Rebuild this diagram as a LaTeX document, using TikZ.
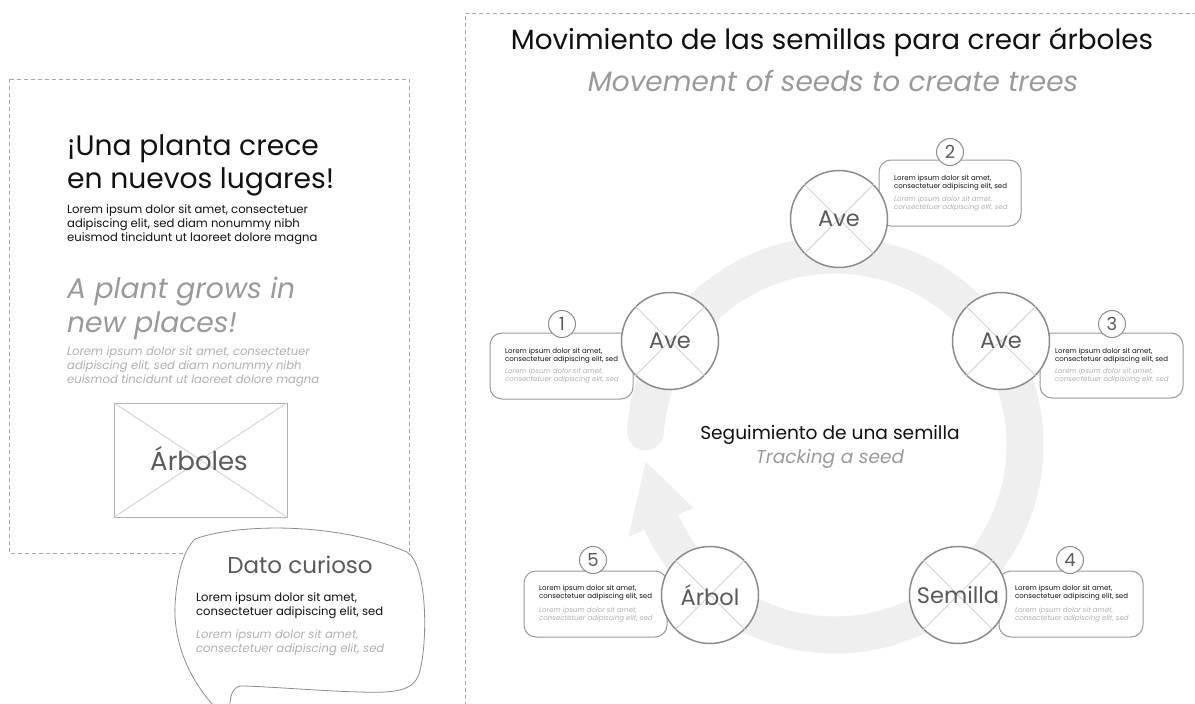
\documentclass[tikz,border=0pt]{standalone}
\usepackage{fontspec}
\setmainfont{Poppins}
\definecolor{dashgray}{HTML}{A8A8A8}
\definecolor{ringgray}{HTML}{EFEFEF}
\definecolor{strokegray}{HTML}{8C8C8C}
\definecolor{cardgray}{HTML}{999999}
\definecolor{crossgray}{HTML}{D2D2D2}
\definecolor{labelgray}{HTML}{5A5A5A}
\definecolor{subgray}{HTML}{9A9A9A}
\definecolor{palegray}{HTML}{B0B0B0}
\definecolor{inkblack}{HTML}{111111}
\newcommand\myfs[2]{\fontsize{#1}{#2}\selectfont}
\tikzset{
  dashbox/.style={draw=dashgray, dash pattern=on 4pt off 3pt, line width=0.8pt},
  birdnode/.style={circle, draw=strokegray, line width=1.5pt, fill=white, minimum size=97pt, inner sep=0pt},
  birdlabel/.style={font=\myfs{22.5}{26}, text=labelgray, inner sep=0pt},
  crossline/.style={draw=crossgray, line width=0.9pt},
  card/.style={draw=cardgray, rounded corners=12pt, line width=1pt, fill=white, inner sep=0pt},
  numnode/.style={circle, draw=strokegray, fill=white, line width=1pt, minimum size=27pt, inner sep=0pt, font=\myfs{18}{18}, text=labelgray},
  cardblack/.style={anchor=west, align=left, inner sep=0pt, font=\myfs{7}{7.8}, text=inkblack},
  cardgrey/.style={anchor=west, align=left, inner sep=0pt, font=\myfs{7}{7.8}\itshape, text=palegray},
  plain/.style={inner sep=0pt, align=left},
}
\begin{document}
\begin{tikzpicture}[x=1pt,y=-1pt]
\useasboundingbox (0,0) rectangle (1195,704);
\clip (0,0) rectangle (1195,704);
\fill[white] (0,0) rectangle (1195,704);

% panels
\draw[dashbox] (9,79) rectangle (409,553);
\draw[dashbox] (465,720) -- (465,13) -- (1200,13);

% ---------------- left panel
\node[plain, anchor=west, font=\myfs{28.2}{33}, text=inkblack] (h1) at (67,165) {¡Una planta crece\\en nuevos lugares!};
\node[plain, anchor=west, font=\myfs{11.6}{14.3}, text=inkblack] (b1txt) at (67,224.5) {Lorem ipsum dolor sit amet, consectetuer\\adipiscing elit, sed diam nonummy nibh\\euismod tincidunt ut laoreet dolore magna};
\node[plain, anchor=west, font=\myfs{28.2}{34}\itshape, text=subgray] (h2) at (67,308) {A plant grows in\\new places!};
\node[plain, anchor=west, font=\myfs{11.6}{14}\itshape, text=palegray] (b2txt) at (67,366.5) {Lorem ipsum dolor sit amet, consectetuer\\adipiscing elit, sed diam nonummy nibh\\euismod tincidunt ut laoreet dolore magna};

\node[draw=palegray, line width=1pt, minimum width=173pt, minimum height=114pt, inner sep=0pt] (img) at (200.5,460) {};
\draw[crossline] (img.north west) -- (img.south east) (img.north east) -- (img.south west);
\node[birdlabel, font=\myfs{26}{30}] (imglab) at (199,459) {Árboles};

% speech bubble
\draw[draw=strokegray, line width=0.8pt, fill=white]
  (222,714) .. controls (196,690) and (173,650) .. (175,605)
  .. controls (177,572) and (184,550) .. (195,539)
  .. controls (235,524) and (335,521) .. (407,552)
  .. controls (428,565) and (428,645) .. (419,674)
  .. controls (413,692) and (392,693) .. (360,692)
  .. controls (320,691) and (262,686) .. (241,686)
  .. controls (232,687) and (229,697) .. (230,714);
\node[birdlabel, font=\myfs{23}{27}, text=labelgray] (dato) at (300,565) {Dato curioso};
\node[plain, anchor=west, font=\myfs{11.6}{14}, text=inkblack] (dtxt1) at (196,606) {Lorem ipsum dolor sit amet,\\consectetuer adipiscing elit, sed};
\node[plain, anchor=west, font=\myfs{11.6}{14}\itshape, text=palegray] (dtxt2) at (196,643) {Lorem ipsum dolor sit amet,\\consectetuer adipiscing elit, sed};

% ---------------- right panel
\node[plain, font=\myfs{27.8}{32}, text=inkblack] (title) at (832,42) {Movimiento de las semillas para crear árboles};
\node[plain, font=\myfs{28}{32}\itshape, text=subgray] (subtitle) at (833,81) {Movement of seeds to create trees};

% cycle ring
\draw[ringgray, line width=37pt, line cap=round] (835,445) ++(184:190) arc[start angle=184, end angle=516, radius=190];
\fill[ringgray] (628.5,536.9) -- (645.7,461.6) -- (693.4,508.0) -- cycle;

\node[plain, font=\myfs{18.6}{22}, text=inkblack] (ctr1) at (830,435) {Seguimiento de una semilla};
\node[plain, font=\myfs{18.6}{22}\itshape, text=subgray] (ctr2) at (830,459) {Tracking a seed};

% cards
\foreach \n/\cx/\cy/\w/\h/\tx/\by/\gy in {
  1/561.5/366/143/66/505/356/376,
  2/950/193/142/66/894/183/203.5,
  3/1111.5/365.5/143/65/1055/356/376,
  4/1071/604/144/66/1015/592.5/615,
  5/595.5/604/143/66/539/592.5/615}{
  \node[card, minimum width=\w pt, minimum height=\h pt] (card\n) at (\cx,\cy) {};
  \node[cardblack] (cb\n) at (\tx,\by) {Lorem ipsum dolor sit amet,\\consectetuer adipiscing elit, sed};
  \node[cardgrey] (cg\n) at (\tx,\gy) {Lorem ipsum dolor sit amet,\\consectetuer adipiscing elit, sed};
}
\foreach \n/\nx/\ny in {1/562/324, 2/950/152, 3/1112/324, 4/1070/560, 5/593/560}{
  \node[numnode] (num\n) at (\nx,\ny) {\n};
}

% birds
\foreach \n/\bx/\by/\lab in {1/670/341/Ave, 2/839/219/Ave, 3/1001/341/Ave, 4/958/595/Semilla, 5/710/595/Árbol}{
  \node[birdnode] (bird\n) at (\bx,\by) {};
  \draw[crossline] (bird\n.45) -- (bird\n.225) (bird\n.135) -- (bird\n.315);
  \node[birdlabel] (birdlab\n) at (bird\n) {\lab};
}
\end{tikzpicture}
\end{document}
